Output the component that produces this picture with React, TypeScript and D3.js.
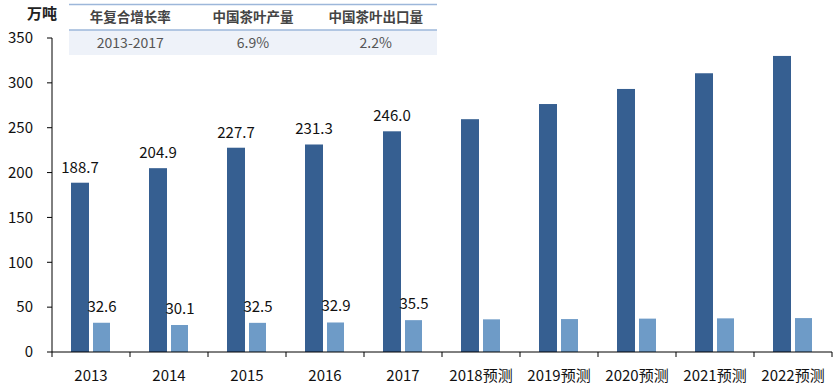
import React from 'react';
import * as d3 from 'd3';

// categories and series (万吨)
const years = ['2013', '2014', '2015', '2016', '2017', '2018预测', '2019预测', '2020预测', '2021预测', '2022预测'];
const production = [188.7, 204.9, 227.7, 231.3, 246.0, 259.5, 276.4, 293.2, 310.7, 330.0];
const exports = [32.6, 30.1, 32.5, 32.9, 35.5, 36.4, 36.7, 37.2, 37.5, 37.8];
// only the historical years carry labels
const labelled = [true, true, true, true, true, false, false, false, false, false];
const yTicks = [0, 50, 100, 150, 200, 250, 300, 350];

const tableHeader = ['年复合增长率', '中国茶叶产量', '中国茶叶出口量'];
const tableRow = ['2013-2017', '6.9%', '2.2%'];

const FONT = '"Microsoft YaHei", "Noto Sans CJK SC", sans-serif';

export default function App() {
  const width = 834;
  const height = 385;
  const margin = { top: 38, right: 2, bottom: 33, left: 52 };
  const innerW = width - margin.left - margin.right;
  const innerH = height - margin.top - margin.bottom;

  const x = d3.scaleBand<string>().domain(years).range([0, innerW]).padding(0);
  const y = d3.scaleLinear().domain([0, 350]).range([innerH, 0]);
  const barW = 18;
  const gap = 4;
  const bw = x.bandwidth();
  const darkX = (d: string) => (x(d) as number) + bw / 2 - gap / 2 - barW;
  const lightX = (d: string) => (x(d) as number) + bw / 2 + gap / 2;

  // table columns
  const tx = d3.scaleBand<number>().domain([0, 1, 2]).range([69, 437]);

  return (
    <svg width={width} height={height} style={{ position: 'absolute', left: 0, top: 0, fontFamily: FONT }}>
      <rect width={width} height={height} fill="#fff" />
      <text x={27} y={19} fontSize={15} fontWeight="bold" fill="#222">万吨</text>

      {/* growth table */}
      <line x1={69} x2={437} y1={4.5} y2={4.5} stroke="#9DB7DA" strokeWidth={1.5} />
      <rect x={69} y={30} width={368} height={25} fill="#EEF2F9" />
      <line x1={69} x2={437} y1={30} y2={30} stroke="#9DB7DA" strokeWidth={1.5} />
      {tableHeader.map((t, i) => (
        <text key={t} x={(tx(i) as number) + tx.bandwidth() / 2} y={22} textAnchor="middle" fontSize={13.5} fontWeight="bold" fill="#444">{t}</text>
      ))}
      {tableRow.map((t, i) => (
        <text key={t} x={(tx(i) as number) + tx.bandwidth() / 2} y={48} textAnchor="middle" fontSize={14} fill="#555">{t}</text>
      ))}

      <g transform={`translate(${margin.left},${margin.top})`}>
        {years.map((d, i) => (
          <g key={d}>
            <rect x={darkX(d)} y={y(production[i])} width={barW} height={innerH - y(production[i])} fill="#365F91" />
            <rect x={lightX(d)} y={y(exports[i])} width={barW - 1} height={innerH - y(exports[i])} fill="#6E9BC7" />
            {labelled[i] && (
              <>
                <text x={darkX(d) + barW / 2} y={y(production[i]) - 10} textAnchor="middle" fontSize={15} fill="#111">{production[i].toFixed(1)}</text>
                <text x={lightX(d) + barW / 2} y={y(exports[i]) - 11} textAnchor="middle" fontSize={15} fill="#111">{exports[i].toFixed(1)}</text>
              </>
            )}
          </g>
        ))}

        {/* y axis */}
        <line x1={0} x2={0} y1={0} y2={innerH} stroke="#000" />
        {yTicks.map(t => (
          <g key={t} transform={`translate(0,${y(t)})`}>
            <line x1={-5} x2={0} stroke="#000" />
            <text x={-19} dy="0.35em" textAnchor="end" fontSize={15} fill="#111">{t}</text>
          </g>
        ))}

        {/* x axis */}
        <line x1={0} x2={innerW} y1={innerH} y2={innerH} stroke="#000" />
        {years.map(d => (
          <line key={d} x1={x(d) as number} x2={x(d) as number} y1={innerH} y2={innerH + 5} stroke="#000" />
        ))}
        <line x1={innerW} x2={innerW} y1={innerH} y2={innerH + 5} stroke="#000" />
        {years.map(d => (
          <text key={d} x={(x(d) as number) + bw / 2} y={innerH + 29} textAnchor="middle" fontSize={15} fill="#111">{d}</text>
        ))}
      </g>
    </svg>
  );
}
